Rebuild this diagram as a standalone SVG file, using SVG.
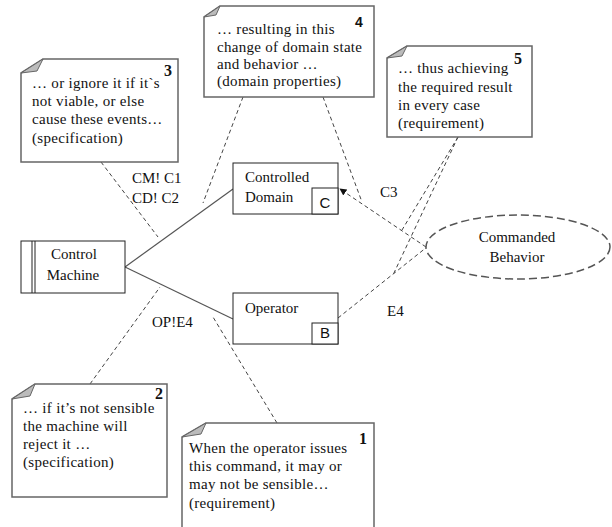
<svg xmlns="http://www.w3.org/2000/svg" width="612" height="527" viewBox="0 0 612 527" font-family="'Liberation Serif', 'Times New Roman', serif">
<style>
text{font-family:'Liberation Serif','Times New Roman',serif;font-size:15px;fill:#111}
.nt{letter-spacing:0.3px}
.num{font-weight:bold;font-size:16px}
.sans{font-family:'Liberation Sans',Arial,sans-serif}
.note{fill:#fff;stroke:#666;stroke-width:1.5}
.fold{fill:#bbb;stroke:#666;stroke-width:1}
.box{fill:#fff;stroke:#222;stroke-width:1}
.solid{fill:none;stroke:#555;stroke-width:1.2}
.dash{fill:none;stroke:#444;stroke-width:1;stroke-dasharray:4 3}
.mid{text-anchor:middle}
</style>
<defs>
<marker id="arr" viewBox="0 0 10 10" refX="9" refY="5" markerWidth="7" markerHeight="7" orient="auto" markerUnits="userSpaceOnUse">
<path d="M0,0 L10,5 L0,10 Z" fill="#111"/>
</marker>
</defs>
<rect width="612" height="527" fill="#fff"/>

<g id="connectors">
<line class="solid" x1="125" y1="267" x2="233" y2="189"/>
<line class="solid" x1="125" y1="267" x2="233" y2="319"/>
<line class="dash" x1="426" y1="247" x2="340" y2="189" marker-end="url(#arr)"/>
<line class="dash" x1="338" y1="318" x2="427" y2="247"/>
<line class="dash" x1="101" y1="162" x2="158" y2="237"/>
<line class="dash" x1="243" y1="97" x2="203" y2="203"/>
<line class="dash" x1="323" y1="97" x2="362" y2="202"/>
<line class="dash" x1="458" y1="137" x2="402" y2="230"/>
<line class="dash" x1="458" y1="137" x2="393" y2="275"/>
<line class="dash" x1="90" y1="384" x2="160" y2="287"/>
<line class="dash" x1="277" y1="423" x2="213" y2="317"/>
<text x="132" y="183">CM! C1</text>
<text x="132" y="203">CD! C2</text>
<text x="152" y="327">OP!E4</text>
<text x="380" y="197">C3</text>
<text x="387" y="316">E4</text>
</g>

<g id="control-machine">
<rect class="box" x="21" y="241" width="104" height="52"/>
<line x1="32" y1="241" x2="32" y2="293" stroke="#222"/>
<line x1="35" y1="241" x2="35" y2="293" stroke="#222"/>
<text class="mid" x="74" y="259">Control</text>
<text class="mid" x="73" y="280">Machine</text>
</g>

<g id="controlled-domain">
<rect class="box" x="233" y="163" width="105" height="51"/>
<rect class="box" x="312" y="188" width="26" height="26"/>
<text x="245" y="182">Controlled</text>
<text x="245" y="202">Domain</text>
<text class="sans mid" x="325" y="208">C</text>
</g>

<g id="operator">
<rect class="box" x="233" y="293" width="105" height="51"/>
<rect class="box" x="312" y="323" width="26" height="21"/>
<text x="245" y="313">Operator</text>
<text class="sans mid" x="325" y="338">B</text>
</g>

<g id="commanded-behavior">
<ellipse cx="518" cy="247" rx="92" ry="32" fill="#fff" stroke="#555" stroke-width="1.5" stroke-dasharray="8 4"/>
<text class="mid" x="517" y="242">Commanded</text>
<text class="mid" x="517" y="262">Behavior</text>
</g>

<g id="note3">
<path class="note" d="M43,59 H178 V162 H21 V73 Z"/>
<path class="fold" d="M21,73 L43,59 L37,71 Z"/>
<text class="nt" x="32" y="88">… or ignore it if it`s</text>
<text class="nt" x="32" y="106">not viable, or else</text>
<text class="nt" x="32" y="124">cause these events…</text>
<text class="nt" x="32" y="143">(specification)</text>
<text class="num" x="164" y="76">3</text>
</g>

<g id="note4">
<path class="note" d="M220,6 H374 V97 H204 V17 Z"/>
<path class="fold" d="M204,17 L220,6 L216,15 Z"/>
<text class="nt" x="217" y="34">… resulting in this</text>
<text class="nt" x="217" y="52">change of domain state</text>
<text class="nt" x="217" y="69">and behavior …</text>
<text class="nt" x="217" y="86">(domain properties)</text>
<text class="num sans" x="355" y="27" style="font-size:14px">4</text>
</g>

<g id="note5">
<path class="note" d="M407,46 H532 V137 H387 V58 Z"/>
<path class="fold" d="M387,58 L407,46 L402,56 Z"/>
<text class="nt" x="398" y="73">… thus achieving</text>
<text class="nt" x="398" y="92">the required result</text>
<text class="nt" x="398" y="110">in every case</text>
<text class="nt" x="398" y="128">(requirement)</text>
<text class="num" x="514" y="64">5</text>
</g>

<g id="note2">
<path class="note" d="M35,384 H167 V497 H12 V399 Z"/>
<path class="fold" d="M12,399 L35,384 L30,396 Z"/>
<text class="nt" x="23" y="413">… if it’s not sensible</text>
<text class="nt" x="23" y="431">the machine will</text>
<text class="nt" x="23" y="449">reject it …</text>
<text class="nt" x="23" y="467">(specification)</text>
<text class="num" x="155" y="399">2</text>
</g>

<g id="note1">
<path class="note" d="M206,423 H374 V530 H182 V437 Z"/>
<path class="fold" d="M182,437 L206,423 L201,434 Z"/>
<text class="nt" x="189" y="453">When the operator issues</text>
<text class="nt" x="189" y="471">this command, it may or</text>
<text class="nt" x="189" y="489">may not be sensible…</text>
<text class="nt" x="189" y="508">(requirement)</text>
<text class="num" x="359" y="444">1</text>
</g>
</svg>
